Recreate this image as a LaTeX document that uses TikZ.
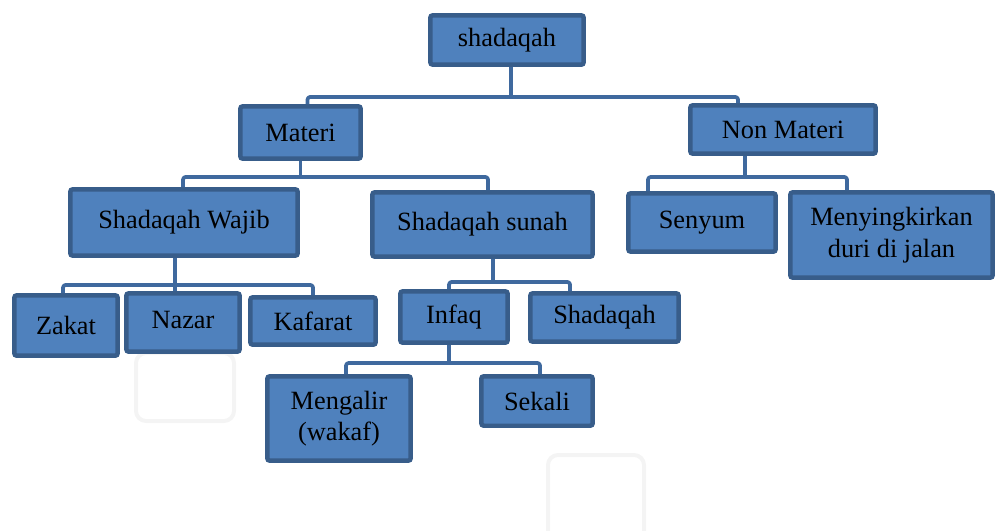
\documentclass[tikz,border=0pt]{standalone}
\usepackage{fontspec}
\setmainfont{Liberation Serif}
\usetikzlibrary{calc}
\definecolor{isi}{HTML}{4F81BD}
\definecolor{tepi}{HTML}{385D8A}
\definecolor{garis}{RGB}{63,105,158}
\definecolor{samar}{HTML}{F4F4F4}

\begin{document}
\begin{tikzpicture}[x=0.02cm, y=-0.02cm,
    kotak/.style={draw=tepi, fill=isi, line width=0.09cm, rounded corners=1.5pt,
        align=center, inner sep=2pt, font=\fontsize{15}{18}\selectfont},
    link/.style={draw=garis, line width=0.075cm, line join=round, rounded corners=1.5pt}]
   \useasboundingbox (0,0) rectangle (995,531);
   \draw[samar, line width=0.08cm, rounded corners=0.2cm] (136,353) rectangle (234,421);
   \draw[samar, line width=0.08cm, rounded corners=0.2cm] (548,455) rectangle (644,545);

   \node[kotak, minimum width=3.07cm, minimum height=0.99cm] (root) at (507,40) {shadaqah};
   \node[kotak, minimum width=2.41cm, minimum height=1.05cm] (materi) at (300.5,132.5) {Materi};
   \node[kotak, minimum width=3.71cm, minimum height=0.97cm] (nonmateri) at (783,129.5) {Non Materi};
   \node[kotak, minimum width=4.55cm, minimum height=1.33cm] (wajib) at (184,222.5) {Shadaqah Wajib};
   \node[kotak, minimum width=4.41cm, minimum height=1.29cm] (sunah) at (482.5,224.5) {Shadaqah sunah};
   \node[kotak, minimum width=2.95cm, minimum height=1.17cm] (senyum) at (702,222.5) {Senyum};
   \node[kotak, minimum width=4.05cm, minimum height=1.71cm] (duri) at (891.5,235) {Menyingkirkan\\duri di jalan};
   \node[kotak, minimum width=2.07cm, minimum height=1.21cm] (zakat) at (66,325.5) {Zakat};
   \node[kotak, minimum width=2.27cm, minimum height=1.17cm] (nazar) at (183,322.5) {\raisebox{3pt}{Nazar}};
   \node[kotak, minimum width=2.51cm, minimum height=0.95cm] (kafarat) at (313,321) {Kafarat};
   \node[kotak, minimum width=2.15cm, minimum height=1.03cm] (infaq) at (454,317) {Infaq};
   \node[kotak, minimum width=2.97cm, minimum height=0.97cm] (shadaqah) at (604.5,317.5) {Shadaqah};
   \node[kotak, minimum width=2.87cm, minimum height=1.69cm] (mengalir) at (339,418.5) {Mengalir\\(wakaf)};
   \node[kotak, minimum width=2.23cm, minimum height=0.99cm] (sekali) at (537,401) {Sekali};

   \path[link] ($(root.south)+(4,0)$) -- ++(0,30);
   \path[link] ($(materi.north)+(7,0)$) |- ($(root.south)+(4,30)$) -| ($(nonmateri.north)+(-45,0)$);
   \path[link] (materi.south) -- ++(0,16);
   \path[link] ($(wajib.north)+(-1,0)$) |- ($(materi.south)+(0,16)$) -| ($(sunah.north)+(5.5,0)$);
   \path[link] ($(nonmateri.south)+(-38,0)$) -- ++(0,21);
   \path[link] ($(senyum.north)+(-54,0)$) |- ($(nonmateri.south)+(-38,21)$) -| ($(duri.north)+(-44.5,0)$);
   \path[link] ($(wajib.south)+(-9,0)$) -- ($(nazar.north)+(-8,0)$);
   \path[link] ($(zakat.north)+(-3,0)$) |- ($(wajib.south)+(-9,27)$) -| (kafarat.north);
   \path[link] ($(sunah.south)+(10.5,0)$) -- ++(0,23);
   \path[link] ($(infaq.north)+(-5,0)$) |- ($(sunah.south)+(10.5,23)$) -| ($(shadaqah.north)+(-34.5,0)$);
   \path[link] ($(infaq.south)+(-5,0)$) -- ++(0,18);
   \path[link] ($(mengalir.north)+(7,0)$) |- ($(infaq.south)+(-5,18)$) -| ($(sekali.north)+(3,0)$);
\end{tikzpicture}
\end{document}
